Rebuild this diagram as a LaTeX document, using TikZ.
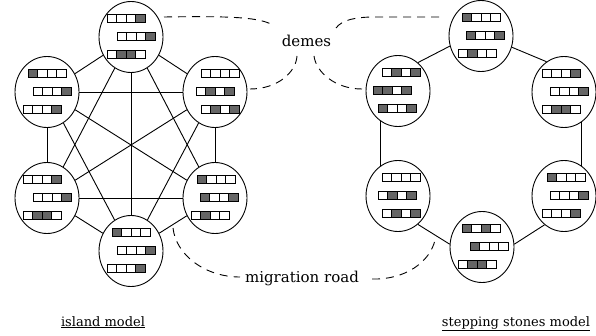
\documentclass[tikz,border=0pt]{standalone}
\usepackage{fontspec}
\setmainfont{DejaVu Serif}
\usetikzlibrary{shapes.geometric}
\definecolor{shade}{gray}{0.4}
\tikzset{
  deme/.style={ellipse, draw, line width=0.9pt, minimum width=64pt, minimum height=71pt, inner sep=0pt},
  link/.style={line width=0.9pt},
  cell/.style={draw, line width=0.9pt},
  callout/.style={line width=0.9pt, dash pattern=on 8pt off 6pt},
  lbl/.style={font=\fontsize{15}{18}\selectfont, inner sep=0pt},
  title/.style={font=\fontsize{13}{16}\selectfont, inner sep=0pt},
}
\newcommand\chromo[4]{%
  \foreach \b [count=\i from 0] in {#4}{%
    \ifnum\b=1 \def\fc{shade}\else\def\fc{white}\fi
    \draw[cell, fill=\fc] ([shift={(#2+\i*9.5,#3-4)}]#1.center) rectangle ++(9.5,8);
  }}
\newcommand\demecontent[7]{%
  \chromo{#1}{#2}{-19}{#3}%
  \chromo{#1}{#4}{-1}{#5}%
  \chromo{#1}{#6}{17}{#7}}
\begin{document}
\begin{tikzpicture}[x=1pt,y=-1pt]
\useasboundingbox (0,0) rectangle (596,336);
% island model
\node[deme] (LT)  at (131,37)  {};
\node[deme] (LUL) at (47,92)   {};
\node[deme] (LUR) at (215,92)  {};
\node[deme] (LLL) at (47,198)  {};
\node[deme] (LLR) at (215,198) {};
\node[deme] (LB)  at (131,251) {};
\foreach \a/\b in {LT/LUL,LT/LUR,LT/LLL,LT/LLR,LT/LB,LUL/LUR,LUL/LLL,LUL/LLR,LUL/LB,LUR/LLL,LUR/LLR,LUR/LB,LLL/LLR,LLL/LB,LLR/LB}
  \draw[link] (\a) -- (\b);
\demecontent{LT}{-24}{0,0,0,1}{-14}{0,0,0,1}{-24}{0,1,1,0}
\demecontent{LUL}{-19}{1,0,0,0}{-14}{0,0,0,1}{-24}{0,0,0,1}
\demecontent{LUR}{-14}{0,0,0,0}{-19}{0,1,0,1}{-14}{0,1,0,1}
\demecontent{LLL}{-24}{0,0,0,1}{-14}{0,0,0,1}{-24}{0,1,1,0}
\demecontent{LLR}{-18}{1,0,0,0}{-15}{1,0,0,1}{-24}{0,1,0,0}
\demecontent{LB}{-19}{1,0,0,0}{-14}{0,0,0,1}{-24}{0,0,0,1}
% stepping stones model
\node[deme] (RT)  at (481,36)  {};
\node[deme] (RUL) at (398,91)  {};
\node[deme] (RUR) at (564,92)  {};
\node[deme] (RLL) at (398,196) {};
\node[deme] (RLR) at (564,196) {};
\node[deme] (RB)  at (482,247) {};
\draw[link] (RT.198) -- (RUL.55);
\draw[link] (RT.340) -- (RUR.120);
\draw[link] (RUL.240) -- (RLL.120);
\draw[link] (RUR.300) -- (RLR.60);
\draw[link] (RLL.305) -- (RB.175);
\draw[link] (RLR.236) -- (RB.5);
\demecontent{RT}{-19}{1,0,0,0}{-15}{1,0,0,1}{-23}{0,1,0,0}
\demecontent{RUL}{-16}{0,1,0,1}{-25}{1,1,0,1}{-20}{1,0,0,1}
\demecontent{RUR}{-22}{0,0,0,1}{-14}{0,0,0,1}{-22}{0,1,1,0}
\demecontent{RLL}{-16}{0,0,0,0}{-20}{0,1,0,1}{-16}{0,1,0,1}
\demecontent{RLR}{-17}{1,0,0,0}{-14}{0,0,0,1}{-22}{0,0,0,1}
\demecontent{RB}{-20}{1,0,1,0}{-12}{1,0,0,0}{-24}{0,1,1,0}
% labels
\node[lbl, anchor=base] (demes) at (306.5,47) {demes};
\node[lbl, anchor=base] (road) at (302,283) {migration road};
\node[title, anchor=base] (isl) at (103,326) {\underline{island model}};
\node[title, anchor=base] (sst) at (516,326) {\underline{stepping stones model}};
% callouts
\coordinate (a0) at (164,17);
\coordinate (a1) at (274,26);
\coordinate (b0) at (297,56);
\coordinate (b1) at (250,89);
\coordinate (c0) at (314,56);
\coordinate (c1) at (362,89);
\coordinate (d0) at (336,28);
\coordinate (d1) at (442,17);
\coordinate (e0) at (173,228);
\coordinate (e1) at (240,277);
\coordinate (f0) at (372,279);
\coordinate (f1) at (435,240);
\draw[callout] (a0) .. controls (230,16) and (262,17) .. (a1);
\draw[callout] (b0) .. controls (296,72) and (278,89) .. (b1);
\draw[callout] (c0) .. controls (316,72) and (335,89) .. (c1);
\draw[callout] (d0) .. controls (342,20) and (355,17) .. (375,17) -- (d1);
\draw[callout] (e0) .. controls (176,255) and (205,277) .. (e1);
\draw[callout] (f0) .. controls (405,280) and (430,262) .. (f1);
\end{tikzpicture}
\end{document}
